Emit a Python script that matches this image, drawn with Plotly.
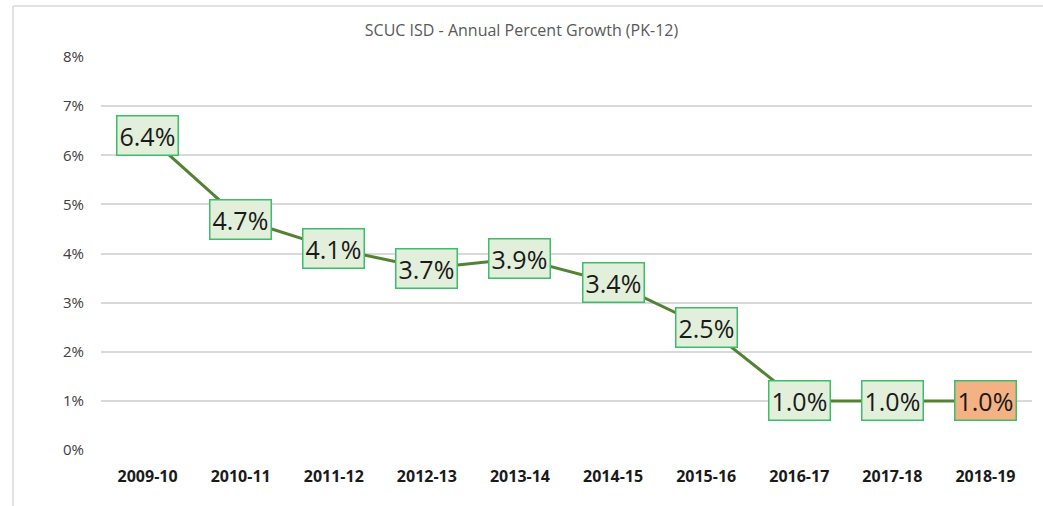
import plotly.graph_objects as go

years = ["2009-10", "2010-11", "2011-12", "2012-13", "2013-14",
         "2014-15", "2015-16", "2016-17", "2017-18", "2018-19"]
growth = [6.4, 4.7, 4.1, 3.7, 3.9, 3.4, 2.5, 1.0, 1.0, 1.0]
box_fill = ["#E2EFDA"] * 9 + ["#F4B183"]
y_ticks = [0, 1, 2, 3, 4, 5, 6, 7, 8]
y_tick_text = [f"{v}%" for v in y_ticks]

W, H = 1043, 506
ml, mr, mt, mb = 101, 11, 57, 56

fig = go.Figure()
fig.add_trace(go.Scatter(
    x=years, y=growth, mode="lines",
    line=dict(color="#548235", width=3),
    hoverinfo="skip", showlegend=False,
))

for x, y, fc in zip(years, growth, box_fill):
    fig.add_annotation(
        x=x, y=y, xref="x", yref="y", text=f"{y:.1f}%", showarrow=False,
        font=dict(family="Open Sans", size=25, color="#1a1a1a"),
        bgcolor=fc, bordercolor="#3DBE6B", borderwidth=1.5, borderpad=2,
    )

pw = W - ml - mr
ph = H - mt - mb
def px(v):
    return (v - ml) / pw
def py(v):
    return (H - mb - v) / ph

fig.add_shape(type="line", xref="paper", yref="paper",
              x0=px(13), x1=px(1043), y0=py(6), y1=py(6),
              line=dict(color="#D9D9D9", width=1.5))
fig.add_shape(type="line", xref="paper", yref="paper",
              x0=px(13), x1=px(13), y0=py(6), y1=py(506),
              line=dict(color="#D9D9D9", width=1.5))

fig.update_layout(
    width=W, height=H,
    margin=dict(l=ml, r=mr, t=mt, b=mb),
    paper_bgcolor="white", plot_bgcolor="white",
    title=dict(text="SCUC ISD - Annual Percent Growth (PK-12)",
               x=0.5, xref="container", xanchor="center", y=1 - 30 / H, yanchor="middle",
               font=dict(family="Open Sans", size=16, color="#595959")),
    xaxis=dict(
        type="category", showgrid=False, zeroline=False, showline=False,
        tickfont=dict(family="Open Sans", size=16, color="#1a1a1a", weight="bold"),
        ticks="outside", ticklen=12, tickcolor="rgba(0,0,0,0)",
        range=[-0.5, 9.5],
    ),
    yaxis=dict(
        range=[0, 8], tickvals=y_ticks, ticktext=y_tick_text,
        showgrid=True, gridcolor="#D9D9D9", gridwidth=1.5,
        zeroline=False, showline=False,
        tickfont=dict(family="Open Sans", size=15, color="#404040"),
        ticks="outside", ticklen=13, tickcolor="rgba(0,0,0,0)",
    ),
)

fig.write_html("out.html", config={"displayModeBar": False},
               post_script="document.body.style.margin='0';")
